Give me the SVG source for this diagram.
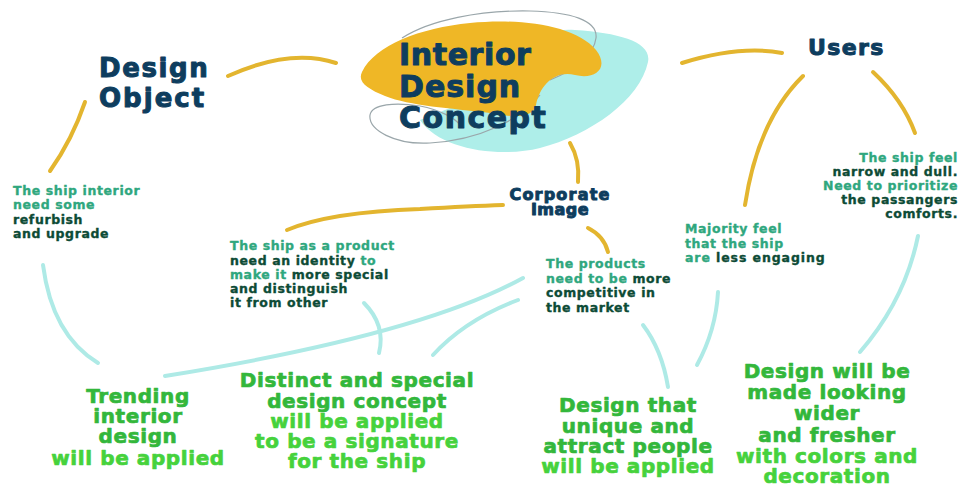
<svg xmlns="http://www.w3.org/2000/svg" width="962" height="489" viewBox="0 0 962 489">
  <style>
    text { font-family: "DejaVu Sans", "Liberation Sans", sans-serif; font-weight: bold; stroke-linejoin: round; }
    .hd { fill: #0e3d5e; stroke: #0e3d5e; stroke-width: 1; }
    .nt { font-size: 12.5px; letter-spacing: 0.6px; stroke-width: 0.35; }
    .lt { fill: #2fa77e; stroke: #2fa77e; }
    .dk { fill: #0d4b36; stroke: #0d4b36; }
    .big { font-size: 20px; letter-spacing: 0.6px; text-anchor: middle; stroke-width: 0.7; }
    .g1 { fill: #33b73b; stroke: #33b73b; }
    .g2 { fill: #46d23c; stroke: #46d23c; }
    .yl { fill: none; stroke: #e3b52f; stroke-width: 4; stroke-linecap: round; }
    .cy { fill: none; stroke: #aeeae6; stroke-width: 4; stroke-linecap: round; }
  </style>
  <rect width="962" height="489" fill="#ffffff"/>

  <!-- connectors -->
  <g id="connectors">
    <path class="yl" d="M228,76 Q 290,48 336,63"/>
    <path class="yl" d="M85,102 Q 72,140 50,171"/>
    <path class="yl" d="M570,143 Q 580,160 578,182"/>
    <path class="yl" d="M287,230 Q 330,212 420,209 Q 470,206 503,205"/>
    <path class="yl" d="M588,228 Q 604,236 608,252"/>
    <path class="yl" d="M682,63 Q 740,45 782,53"/>
    <path class="yl" d="M803,76 Q 758,120 745,205"/>
    <path class="yl" d="M873,72 Q 903,100 915,133"/>
    <path class="cy" d="M43,265 Q 52,335 98,363"/>
    <path class="cy" d="M165,376 Q 420,335 523,278"/>
    <path class="cy" d="M364,303 Q 386,325 379,353"/>
    <path class="cy" d="M518,300 Q 465,320 433,355"/>
    <path class="cy" d="M643,325 Q 662,350 668,387"/>
    <path class="cy" d="M718,292 Q 716,330 697,365"/>
    <path class="cy" d="M918,236 Q 905,300 860,352"/>
  </g>

  <!-- central concept: cyan blob, grey scribble, yellow blob, title -->
  <g id="concept">
    <path fill="#aeeee9" d="M420,120 C 440,150 500,158 540,148 C 590,135 640,100 648,62 C 652,42 620,33 575,30 C 545,28 520,40 510,60 L 470,100 Z"/>
    <path fill="none" stroke="#9aa6aa" stroke-width="1.2" d="M402,38 C 430,20 480,10 530,11 C 570,12 598,20 596,38 C 594,55 575,70 550,80"/>
    <path fill="none" stroke="#9aa6aa" stroke-width="1.2" d="M540,95 C 520,120 480,140 430,143 C 395,145 368,130 370,115 C 372,104 395,102 420,106 C 440,110 455,118 460,125"/>
    <path fill="#efb726" d="M362,72 C 375,45 420,28 470,23 C 520,18 575,25 596,50 C 610,68 595,80 575,75 C 555,70 540,85 536,105 C 533,118 515,118 490,113 C 450,108 410,106 385,96 C 368,89 357,82 362,72 Z"/>
    <text class="hd" font-size="30" letter-spacing="0.6" x="399" y="65">Interior</text>
    <text class="hd" font-size="30" letter-spacing="1" x="399" y="97">Design</text>
    <text class="hd" font-size="30" letter-spacing="1.5" x="399" y="128">Concept</text>
  </g>

  <g id="design-object">
    <text class="hd" font-size="26" letter-spacing="1.6" x="99" y="77">Design</text>
    <text class="hd" font-size="26" letter-spacing="2" x="99" y="107">Object</text>
  </g>

  <g id="users">
    <text class="hd" font-size="22" letter-spacing="1.4" x="808" y="55">Users</text>
  </g>

  <g id="corporate-image">
    <text class="hd" font-size="16" letter-spacing="1.2" x="560" y="200" text-anchor="middle" stroke-width="0.6">Corporate</text>
    <text class="hd" font-size="16" letter-spacing="0.5" x="560" y="215" text-anchor="middle" stroke-width="0.6">Image</text>
  </g>

  <g id="note-refurbish" class="nt">
    <text class="lt" x="13" y="195">The ship interior</text>
    <text class="lt" x="13" y="209">need some</text>
    <text class="dk" x="13" y="224">refurbish</text>
    <text class="dk" x="13" y="238">and upgrade</text>
  </g>

  <g id="note-identity" class="nt">
    <text class="lt" x="230" y="250">The ship as a product</text>
    <text x="230" y="265"><tspan class="dk">need an identity</tspan><tspan class="lt"> to</tspan></text>
    <text x="230" y="279"><tspan class="lt">make it</tspan><tspan class="dk"> more special</tspan></text>
    <text class="dk" x="230" y="293">and distinguish</text>
    <text class="dk" x="230" y="307">it from other</text>
  </g>

  <g id="note-competitive" class="nt">
    <text class="lt" x="546" y="268">The products</text>
    <text x="546" y="283"><tspan class="lt">need to be </tspan><tspan class="dk">more</tspan></text>
    <text class="dk" x="546" y="297">competitive in</text>
    <text class="dk" x="546" y="312">the market</text>
  </g>

  <g id="note-engaging" class="nt">
    <text class="lt" x="685" y="233">Majority feel</text>
    <text class="lt" x="685" y="248">that the ship</text>
    <text x="685" y="262" letter-spacing="0.9"><tspan class="lt">are </tspan><tspan class="dk">less engaging</tspan></text>
  </g>

  <g id="note-comfort" class="nt" text-anchor="end">
    <text class="lt" x="958" y="162">The ship feel</text>
    <text class="dk" x="958" y="176">narrow and dull.</text>
    <text class="lt" x="958" y="190">Need to prioritize</text>
    <text class="dk" x="958" y="204">the passangers</text>
    <text class="dk" x="958" y="218">comforts.</text>
  </g>

  <g id="result-trending" class="big">
    <text class="g1" x="138" y="403">Trending</text>
    <text class="g1" x="138" y="423">interior</text>
    <text class="g1" x="138" y="443">design</text>
    <text class="g2" x="138" y="465">will be applied</text>
  </g>

  <g id="result-distinct" class="big">
    <text class="g1" x="357" y="387">Distinct and special</text>
    <text class="g1" x="357" y="408">design concept</text>
    <text class="g2" x="357" y="428">will be applied</text>
    <text class="g2" x="357" y="448">to be a signature</text>
    <text class="g2" x="357" y="468">for the ship</text>
  </g>

  <g id="result-unique" class="big">
    <text class="g1" x="628" y="412">Design that</text>
    <text class="g1" x="628" y="433">unique and</text>
    <text class="g1" x="628" y="453">attract people</text>
    <text class="g2" x="628" y="473">will be applied</text>
  </g>

  <g id="result-wider" class="big">
    <text class="g1" x="827" y="378">Design will be</text>
    <text class="g1" x="827" y="399">made looking</text>
    <text class="g1" x="827" y="420">wider</text>
    <text class="g1" x="827" y="442">and fresher</text>
    <text class="g2" x="827" y="463">with colors and</text>
    <text class="g2" x="827" y="483">decoration</text>
  </g>
</svg>
